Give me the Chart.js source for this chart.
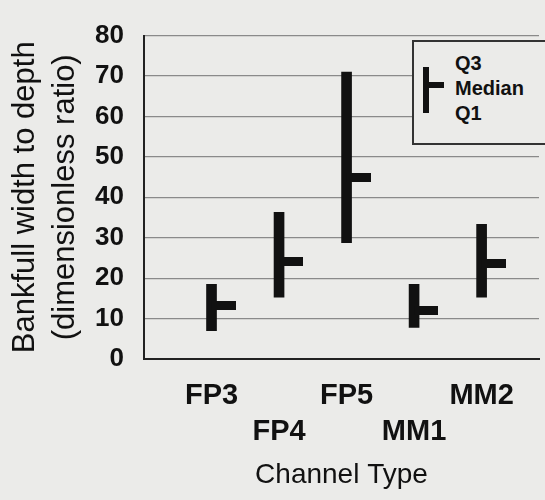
<!DOCTYPE html>
<html lang="en">
<head>
    <meta charset="UTF-8">
    <title>Bankfull width to depth by channel type</title>
    <style>
        body {
            margin: 0;
            background-color: #ebebe9;
            overflow: hidden;
            font-family: "Liberation Sans", Arial, sans-serif;
        }
        #wrap {
            position: relative;
            width: 545px;
            height: 500px;
        }
        #key {
            position: absolute;
            left: 412px;
            top: 40px;
            width: 160px;
            height: 101px;
            border: 2px solid #333;
            border-right: none;
            background-color: #ebebe9;
            color: #111;
        }
        #key .bar {
            position: absolute;
            left: 9px;
            top: 25px;
            width: 6px;
            height: 46px;
            background: #111;
        }
        #key .tick {
            position: absolute;
            left: 14px;
            top: 40px;
            width: 16px;
            height: 6px;
            background: #111;
        }
        #key .txt {
            position: absolute;
            left: 41px;
            top: 9px;
            font-weight: bold;
            font-size: 20px;
            line-height: 25px;
        }
    </style>
</head>
<body>
    <div id="wrap">
        <canvas id="chart" width="545" height="500"></canvas>
        <div id="key">
            <div class="bar"></div>
            <div class="tick"></div>
            <div class="txt">Q3<br>Median<br>Q1</div>
        </div>
    </div>

    <script src="https://cdn.jsdelivr.net/npm/chart.js"></script>
    <script>
        // channel types and quartiles
        const channelTypes = ['FP3', 'FP4', 'FP5', 'MM1', 'MM2'];
        const q1Values = [7.0, 15.3, 28.8, 7.8, 15.3];
        const medianValues = [13.3, 24.0, 44.8, 12.0, 23.6];
        const q3Values = [18.5, 36.3, 71.0, 18.5, 33.3];
        const yTicks = [0, 10, 20, 30, 40, 50, 60, 70, 80];

        const FONT = '"Liberation Sans", Arial, sans-serif';
        const INK = '#111111';

        // median marker: a short horizontal stub to the right of the bar
        const stub = document.createElement('canvas');
        stub.width = 48;
        stub.height = 9;
        const sctx = stub.getContext('2d');
        sctx.fillStyle = INK;
        sctx.fillRect(24, 0, 24, 9);

        const rangeData = channelTypes.map((c, i) => ({ x: i + 1, y: [q1Values[i], q3Values[i]] }));
        const medianData = channelTypes.map((c, i) => ({ x: i + 1, y: medianValues[i] }));

        const ctx = document.getElementById('chart').getContext('2d');
        const chart = new Chart(ctx, {
            type: 'bar',
            data: {
                datasets: [
                    {
                        type: 'line',
                        label: 'Median',
                        data: medianData,
                        showLine: false,
                        pointStyle: stub,
                        pointRadius: 5,
                        pointHoverRadius: 5
                    },
                    {
                        label: 'Q1-Q3',
                        data: rangeData,
                        backgroundColor: INK,
                        borderWidth: 0,
                        borderSkipped: false,
                        barThickness: 10
                    }
                ]
            },
            options: {
                responsive: false,
                animation: false,
                layout: {
                    padding: { top: 4, right: 0, bottom: 0, left: 0 }
                },
                plugins: {
                    legend: { display: false },
                    tooltip: { enabled: false }
                },
                scales: {
                    x: {
                        type: 'linear',
                        min: 0,
                        max: 5.85,
                        offset: false,
                        afterBuildTicks: function (scale) {
                            scale.ticks = channelTypes.map((c, i) => ({ value: i + 1 }));
                        },
                        grid: { display: false, drawTicks: false, offset: false },
                        border: { display: true, color: '#222', width: 2 },
                        ticks: {
                            autoSkip: false,
                            maxRotation: 0,
                            padding: 19,
                            color: INK,
                            font: { family: FONT, size: 29, weight: 'bold', lineHeight: 1.24 },
                            callback: function (v) {
                                const i = v - 1;
                                if (!Number.isInteger(i) || i < 0 || i >= channelTypes.length) return '';
                                return i % 2 === 0 ? channelTypes[i] : ['', channelTypes[i]];
                            }
                        },
                        title: {
                            display: true,
                            text: 'Channel Type',
                            color: INK,
                            font: { family: FONT, size: 28, lineHeight: 1.2 },
                            padding: { top: 0, bottom: 8 }
                        },
                        afterFit: function (scale) {
                            scale.height = 141;
                            scale.paddingRight = 0;
                        }
                    },
                    y: {
                        min: 0,
                        max: 80,
                        afterBuildTicks: function (scale) {
                            scale.ticks = yTicks.map(v => ({ value: v }));
                        },
                        grid: { color: '#8a8a8a', lineWidth: 1.2, drawTicks: false },
                        border: { display: true, color: '#222', width: 2 },
                        ticks: {
                            padding: 20,
                            color: INK,
                            font: { family: FONT, size: 26, weight: 'bold' }
                        },
                        title: {
                            display: true,
                            text: ['Bankfull width to depth', '(dimensionless ratio)'],
                            color: INK,
                            font: { family: FONT, size: 31, lineHeight: 1.27 },
                            padding: { top: 6, bottom: 0 }
                        },
                        afterFit: function (scale) { scale.width = 144; }
                    }
                }
            }
        });
    </script>
</body>
</html>
